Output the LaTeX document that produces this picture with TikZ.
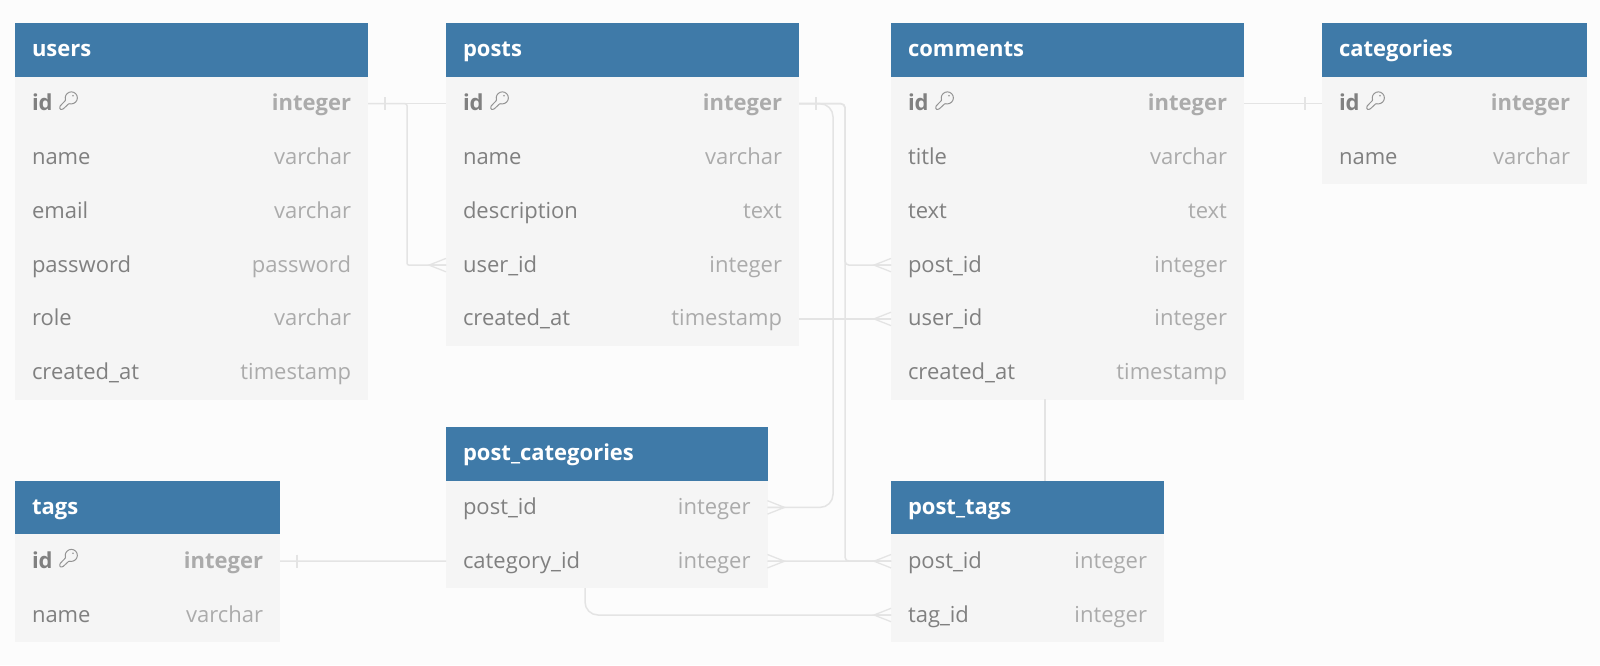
\documentclass[tikz,border=0pt]{standalone}
\usepackage{fontspec}
\setmainfont{Open Sans}
\usetikzlibrary{positioning}
\definecolor{headblue}{HTML}{3F7AA8}
\definecolor{rowgray}{HTML}{F5F5F5}
\definecolor{pagegray}{HTML}{FCFCFC}
\definecolor{namegray}{HTML}{808080}
\definecolor{typegray}{HTML}{ABABAB}
\definecolor{linkgray}{HTML}{E4E4E4}
\definecolor{keygray}{HTML}{949494}
\newcommand{\ty}[1]{\textcolor{typegray}{#1}}
\tikzset{
  head/.style={anchor=north west,fill=headblue,text=white,font=\fontsize{22}{24}\selectfont\bfseries,outer sep=0pt,
    text width=#1pt-34pt,inner xsep=17pt,inner ysep=17.9pt,text height=16pt,text depth=2pt},
  cell/.style={fill=rowgray,text=namegray,font=\fontsize{22}{24}\selectfont,outer sep=0pt,
    text width=#1pt-34pt,inner xsep=17pt,inner ysep=17.9pt,text height=16pt,text depth=2pt},
  pk/.style={cell=#1,font=\fontsize{22}{24}\selectfont\bfseries},
  link/.style={draw=linkgray,line width=1.5pt},
  crow/.pic={\draw[link,line width=1.3pt] (0,-6.7) -- (-17,0) -- (0,6.7) (-17,0) -- (0,0);},
  tick/.pic={\draw[link,line width=1.3pt] (17,-6.7) -- (17,6.7);},
  keyicon/.pic={
    \draw[keygray,line width=1pt,rounded corners=.8pt] (44.8,2.6) -- (50.8,-3.6) arc[start angle=158,end angle=472,radius=6] -- (47.8,5.6) -- (44.8,5.6) -- cycle;
    \fill[keygray] (58,-8) circle (.9);
  }
}
\begin{document}
\begin{tikzpicture}[x=1pt,y=-1pt]
  \useasboundingbox[fill=pagegray] (0,0) rectangle (1600,665);

  \node[head=353] (users) at (15,23) {users};
  \node[pk=353,below=0pt of users] (users-id) {id\hfill\ty{integer}};
  \node[cell=353,below=0pt of users-id] (users-name) {name\hfill\ty{varchar}};
  \node[cell=353,below=0pt of users-name] (users-email) {email\hfill\ty{varchar}};
  \node[cell=353,below=0pt of users-email] (users-password) {password\hfill\ty{password}};
  \node[cell=353,below=0pt of users-password] (users-role) {role\hfill\ty{varchar}};
  \node[cell=353,below=0pt of users-role] (users-created) {created\_at\hfill\ty{timestamp}};

  \node[head=353] (posts) at (446,23) {posts};
  \node[pk=353,below=0pt of posts] (posts-id) {id\hfill\ty{integer}};
  \node[cell=353,below=0pt of posts-id] (posts-name) {name\hfill\ty{varchar}};
  \node[cell=353,below=0pt of posts-name] (posts-description) {description\hfill\ty{text}};
  \node[cell=353,below=0pt of posts-description] (posts-userid) {user\_id\hfill\ty{integer}};
  \node[cell=353,below=0pt of posts-userid] (posts-created) {created\_at\hfill\ty{timestamp}};

  \node[head=353] (comments) at (891,23) {comments};
  \node[pk=353,below=0pt of comments] (comments-id) {id\hfill\ty{integer}};
  \node[cell=353,below=0pt of comments-id] (comments-title) {title\hfill\ty{varchar}};
  \node[cell=353,below=0pt of comments-title] (comments-text) {text\hfill\ty{text}};
  \node[cell=353,below=0pt of comments-text] (comments-postid) {post\_id\hfill\ty{integer}};
  \node[cell=353,below=0pt of comments-postid] (comments-userid) {user\_id\hfill\ty{integer}};
  \node[cell=353,below=0pt of comments-userid] (comments-created) {created\_at\hfill\ty{timestamp}};

  \node[head=265] (categories) at (1322,23) {categories};
  \node[pk=265,below=0pt of categories] (categories-id) {id\hfill\ty{integer}};
  \node[cell=265,below=0pt of categories-id] (categories-name) {name\hfill\ty{varchar}};

  \node[head=321.5] (postcat) at (446,426.7) {post\_categories};
  \node[cell=321.5,below=0pt of postcat] (postcat-postid) {post\_id\hfill\ty{integer}};
  \node[cell=321.5,below=0pt of postcat-postid] (postcat-catid) {category\_id\hfill\ty{integer}};

  \node[head=265] (tags) at (15,480.5) {tags};
  \node[pk=265,below=0pt of tags] (tags-id) {id\hfill\ty{integer}};
  \node[cell=265,below=0pt of tags-id] (tags-name) {name\hfill\ty{varchar}};

  \node[head=273] (posttags) at (891,480.5) {post\_tags};
  \node[cell=273,below=0pt of posttags] (posttags-postid) {post\_id\hfill\ty{integer}};
  \node[cell=273,below=0pt of posttags-postid] (posttags-tagid) {tag\_id\hfill\ty{integer}};

  \path (users-id.west) pic {keyicon};
  \path (posts-id.west) pic {keyicon};
  \path (comments-id.west) pic {keyicon};
  \path (categories-id.west) pic {keyicon};
  \path (tags-id.west) pic {keyicon};

  \coordinate (busA) at (407,300);
  \coordinate (busB) at (833,300);
  \coordinate (busC) at (845,300);
  \coordinate (catdrop) at (585,588);
  \coordinate (cmdrop) at (1045,399);
  \coordinate (tagtop) at (1045,480.5);

  \draw[link] (users-id.east) -- (posts-id.west);
  \draw[link,rounded corners=2] (users-id.east) -| (busA |- posts-userid.west) -- (posts-userid.west);
  \draw[link,rounded corners=13] (posts-id.east) -| (busB |- postcat-postid.east) -- (postcat-postid.east);
  \draw[link,rounded corners=4] (posts-id.east) -| (busC |- comments-postid.west) -- (comments-postid.west);
  \draw[link,rounded corners=4] (posts-id.east) -| (busC |- posttags-postid.west) -- (posttags-postid.west);
  \draw[link] (posts-created.east) -- (comments-userid.west);
  \draw[link] (comments-id.east) -- (categories-id.west);
  \draw[link] (tags-id.east) -- (postcat-catid.west);
  \draw[link] (postcat-catid.east) -- (posttags-postid.west);
  \draw[link,rounded corners=13] (catdrop) |- (posttags-tagid.west);
  \draw[link] (cmdrop) -- (tagtop);

  \path (users-id.east) pic {tick};
  \path (posts-id.east) pic {tick};
  \path (categories-id.west) pic[xscale=-1] {tick};
  \path (tags-id.east) pic {tick};

  \path (posts-userid.west) pic {crow};
  \path (comments-postid.west) pic {crow};
  \path (comments-userid.west) pic {crow};
  \path (posttags-postid.west) pic {crow};
  \path (posttags-tagid.west) pic {crow};
  \path (postcat-postid.east) pic[xscale=-1] {crow};
  \path (postcat-catid.east) pic[xscale=-1] {crow};
\end{tikzpicture}
\end{document}
